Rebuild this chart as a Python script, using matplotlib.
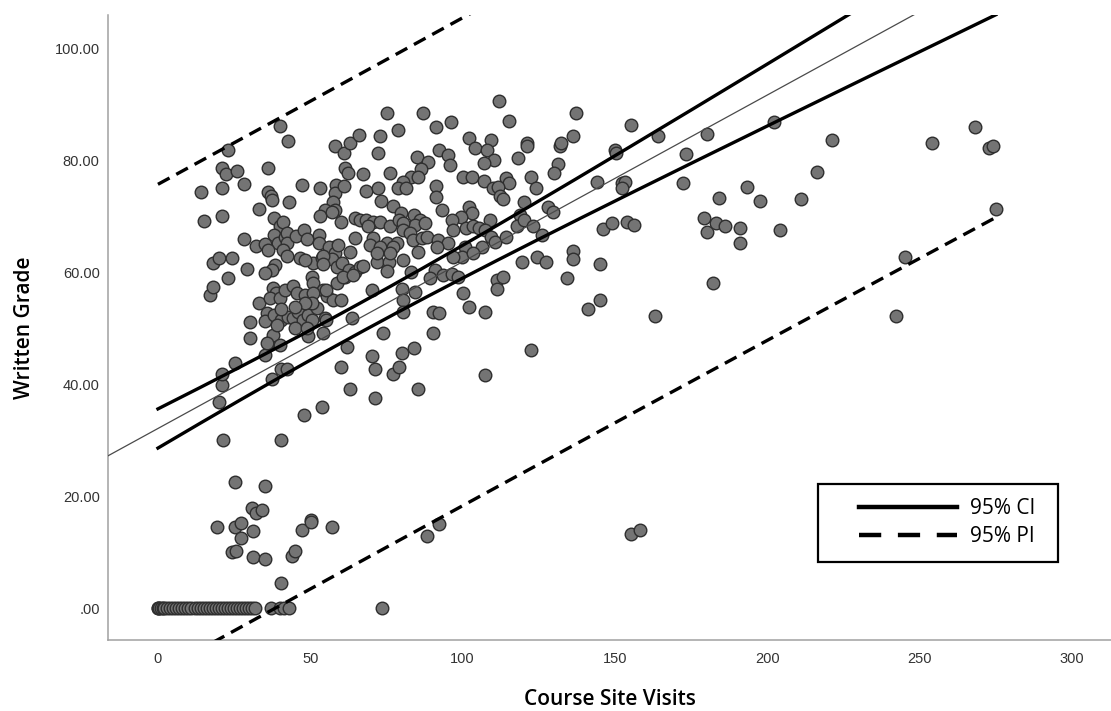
import numpy as np
import matplotlib
matplotlib.use("Agg")
import matplotlib.pyplot as plt
from matplotlib.lines import Line2D
from matplotlib.patches import Rectangle

plt.rcParams["lines.scale_dashes"] = False

# students with a written grade of zero
zero_visits = [0, 0, 0.5, 1, 1.5, 2, 3, 4, 5, 6, 7, 8, 9, 10, 11, 12, 13, 14, 15, 16,
               17, 18, 19, 20, 21, 22, 23, 24, 25, 26, 27, 28, 29, 30, 31, 32,
               37, 40, 41.5, 43, 73.5]

# (visits, grade)
low_points = [
    (19.4, 14.5), (25.3, 22.5), (25.3, 14.5), (27.2, 15.2), (27.2, 12.5), (24.2, 10.0),
    (25.6, 10.2), (31, 17.9), (32.2, 17.0), (34.2, 17.5), (35.1, 21.8), (31.1, 13.8),
    (31.1, 9.1), (35.1, 8.7), (40.3, 4.5), (44, 9.3), (45, 10.2), (47.2, 14.0),
    (50.1, 15.7), (50.3, 15.3), (57.1, 14.5), (88.3, 12.9), (92.2, 15.0),
    (155.2, 13.2), (158.2, 14.0),
    (21.3, 30.0), (40.3, 30.0), (20.1, 36.8), (21.1, 39.9), (21.1, 41.8), (25.3, 43.8),
    (37.3, 41.0), (40.3, 42.8), (42.2, 42.7), (48, 34.5), (54, 36.0), (60, 43.1),
    (63, 39.2), (70.2, 45.1), (71.2, 42.8), (71.2, 37.6), (77.2, 41.9), (79, 43.1),
    (80, 45.6), (84, 46.5), (85.3, 39.2), (107.3, 41.7), (122.4, 46.2), (35.1, 45.3),
    (36.2, 47.4), (30.2, 48.3), (30.2, 51.2), (37.7, 48.8), (40, 47), (62, 46.7),
    (73.8, 49.2), (54.2, 49.2), (49.2, 48.7), (90.3, 49.2),
]

cluster_points = [
    (40, 86.2), (23, 81.9), (42.7, 83.4), (21, 78.7), (22.3, 77.6), (25.9, 78.2),
    (36.1, 78.7), (28.2, 75.8), (14.1, 74.4), (21, 75), (36.1, 74.4), (37.1, 73.7),
    (37.4, 73), (33.1, 71.4), (15.1, 69.1), (21, 70.1), (38.1, 69.8), (40, 68.2),
    (41, 69), (28.2, 66), (38.1, 66.7), (39.4, 65.3), (41.7, 66.4), (32.2, 64.8),
    (35.1, 65.1), (43, 72.6), (18, 61.7), (20, 62.6), (24.3, 62.6), (17.1, 56),
    (18, 57.4), (23, 59), (29.2, 60.6), (47.3, 75.7), (53.2, 75), (75.2, 88.5),
    (78.8, 85.5), (58.1, 82.6), (61.1, 81.4), (63, 83.2), (66, 84.6), (72.9, 84.4),
    (72.2, 81.4), (61.4, 78.7), (62.4, 77.8), (67.3, 77.6), (76.1, 77.8), (58.4, 75.7),
    (68.3, 74.6), (72.2, 75), (73.2, 72.8), (58.1, 74.2), (57.4, 72.6), (58.1, 71.2),
    (54.8, 71.2), (53.2, 70), (57, 70.8), (60, 69), (64.7, 69.8), (66.3, 69.4),
    (68.3, 69.4), (70.6, 69), (72.9, 69), (76.1, 68.3), (69, 68.2),
    (42.3, 67.1), (42.3, 65.3), (41, 64), (42.3, 63), (45.3, 66.5), (48, 67.6),
    (49, 66), (52.8, 66.7), (52.8, 65.3), (57.8, 64.6), (56.1, 64.6), (58.1, 63.5),
    (36.1, 64), (38.4, 61.4), (37.4, 60.5), (46.6, 62.6), (50.9, 61.7), (53.8, 62.6),
    (57.1, 62.4), (58.7, 61), (60.4, 61.7), (61.4, 59.2), (62.7, 60.5), (64.7, 60.1),
    (66.3, 61), (50.5, 59.2), (50.9, 58.1), (54.2, 56.9), (55.5, 55.8), (57.4, 55.1),
    (60, 55.1), (58.7, 58.1), (33.1, 54.6), (37.7, 57.2), (38.7, 56.4), (36.8, 55.5),
    (40, 55.5), (41.7, 56.9), (35.8, 52.8), (35.1, 51.3), (38.1, 52.4), (40.3, 51.5),
    (39, 50.6), (42.7, 52.1), (44.3, 51.9), (45.9, 53), (47.6, 51.5), (49.2, 52.4),
    (50.5, 51.5), (52.2, 53.7), (54.8, 51.9), (44.9, 50.1), (48.9, 50.1), (35.8, 47.4),
    (70.2, 56.9), (63.7, 51.9), (35.1, 59.9), (40.5, 53.5),
    (87, 88.5), (85, 80.7), (88.6, 79.8), (86.3, 78.5), (83, 77.1), (85.3, 77.1),
    (80.4, 76.2), (61, 75.5), (78.8, 75), (81.4, 75), (77.1, 71.9), (79.7, 70.7),
    (79, 69.4), (84, 70.3), (86, 69.4), (84.3, 68.5), (87.6, 68.9), (80.4, 68.9),
    (80.4, 67.6), (59, 64.9), (64.7, 66.2), (70.6, 66.2), (75.2, 65.3), (78.4, 65.3),
    (82.7, 67.1), (83.7, 65.8), (86.6, 66.2), (88.3, 66.4), (69.6, 64.9), (72.9, 64.6),
    (77.1, 64.6),
    (112, 90.7), (115.2, 87.1), (96.2, 86.8), (91.2, 85.9), (102, 84.1), (109.3, 83.7),
    (104, 82.3), (108, 81.9), (110.3, 80.1), (107, 79.6), (92.2, 81.8), (95.2, 80.9),
    (95.8, 79.2), (118.1, 80.5), (100, 77.1), (103, 77.1), (107, 76.4), (114.2, 76.9),
    (115.2, 76), (91.2, 75.5), (91.2, 73.5), (110, 75.1), (111.6, 75.3), (112.2, 73.7),
    (113.2, 73.2), (93.2, 71.2), (102, 71.6), (103, 70.7), (99.4, 69.9), (96.5, 69.4),
    (96.8, 67.6), (101.1, 68), (103.4, 68.2), (105.3, 68), (109, 69.4), (107.3, 67.6),
    (118.8, 70.3), (117.8, 68.2), (91.9, 65.8), (95.2, 65.3), (91.6, 64.6),
    (109.3, 66.4), (110.6, 65.5), (106.3, 64.6), (100.8, 64.6),
    (48.2, 62.3), (54.2, 63), (54.2, 61.5), (60.7, 59.2), (64, 59.6), (63, 63.7),
    (67.3, 61.2), (71.9, 61.9), (75.8, 61.9), (75.2, 60.3), (71.9, 63.5), (76.1, 63.5),
    (80.4, 62.3), (85.3, 63.7), (83, 60.1), (44.3, 57.6), (45.6, 56.4), (48.2, 56),
    (50.9, 56.4), (50.5, 54.6), (48.2, 54.6), (45, 53.8), (55.1, 56.9), (55.1, 51.5),
    (80.1, 57.1), (84.3, 56.5), (80.4, 55.1), (80.4, 53),
    (100.1, 56.4), (102.1, 53.8), (107.3, 53), (90.3, 53), (92.2, 52.8),
    (91, 60.5), (93.5, 59.6), (96.5, 59.7), (98.5, 59.2), (99.8, 62.8), (96.8, 62.8),
    (103.4, 63.5), (89.3, 59),
]

right_points = [
    (202.2, 86.8), (221.2, 83.7), (216.3, 78), (211, 73.2), (197.6, 72.8), (204.1, 67.6),
    (254, 83.2), (268.1, 85.9), (272.7, 82.3), (274, 82.5), (275, 71.4), (245.2, 62.8),
    (242.2, 52.2), (137.2, 88.5), (155.2, 86.4), (164.1, 84.4), (180.2, 84.8),
    (150, 81.9), (150.3, 81.3), (173.3, 81.2), (144, 76.2), (152.3, 76), (153.3, 76.2),
    (152.3, 75.1), (172.3, 76), (193.3, 75.3), (184.1, 73.3), (132, 82.5), (132.3, 83.2),
    (131.3, 79.4), (130, 77.8), (136.2, 84.3), (121.1, 83.2), (121.1, 82.5),
    (122.4, 77.1), (124, 75), (120.1, 72.5), (128, 71.6), (129.6, 70.8), (126, 66.7),
    (146, 67.8), (149, 68.9), (154, 69), (156.2, 68.5), (179.2, 69.8), (180.2, 67.3),
    (183.1, 68.9), (186.1, 68.3), (191, 68), (191, 65.3), (182.1, 58.1), (163.1, 52.2),
    (136.2, 63.9), (136.2, 62.4), (145.1, 61.5), (134.2, 59), (141.1, 53.5),
    (145.1, 55.1), (124.4, 62.8), (127.3, 61.9), (119.5, 61.9), (111.2, 58.7),
    (111.2, 57.1), (113.2, 59.2), (114.2, 66.4), (120.1, 69.4), (123.1, 68.2),
]

# regression fit
fit_intercept = 32.1
fit_slope = 0.298
visits_mean = 64.3
n_obs = 273
visits_ss = 1.47e6
t_times_s = 43.5

y_ticks = [0, 20, 40, 60, 80, 100]
y_tick_labels = [".00", "20.00", "40.00", "60.00", "80.00", "100.00"]
x_ticks = [0, 50, 100, 150, 200, 250, 300]

pts = np.array(low_points + cluster_points + right_points)
visits = np.concatenate([zero_visits, pts[:, 0]])
grades = np.concatenate([np.zeros(len(zero_visits)), pts[:, 1]])

fig = plt.figure(figsize=(11.11, 7.11), dpi=100)
ax = fig.add_axes([0.0972, 0.0999, 0.9028, 0.879])

ax.scatter(visits, grades, s=82, facecolor="#747474", edgecolor="#2e2e2e",
           linewidth=1.0, zorder=2)

xmin, xmax = -16.4, 312.8
ax.set_xlim(xmin, xmax)
ax.set_ylim(-5.7, 106)

xl = np.array([xmin, xmax])
ax.plot(xl, fit_intercept + fit_slope * xl, color="#4a4a4a", lw=0.9, zorder=3)

xc = np.linspace(visits.min(), visits.max(), 300)
yc = fit_intercept + fit_slope * xc
lev = 1.0 / n_obs + (xc - visits_mean) ** 2 / visits_ss
ci = t_times_s * np.sqrt(lev)
pi = t_times_s * np.sqrt(1 + lev)
ax.plot(xc, yc + ci, color="black", lw=2.4, zorder=3)
ax.plot(xc, yc - ci, color="black", lw=2.4, zorder=3)
ax.plot(xc, yc + pi, color="black", lw=2.4, dashes=(9.5, 5.5), zorder=3)
ax.plot(xc, yc - pi, color="black", lw=2.4, dashes=(9.5, 5.5), zorder=3)

for s in ["top", "right"]:
    ax.spines[s].set_visible(False)
for s in ["left", "bottom"]:
    ax.spines[s].set_color("#a0a0a0")
    ax.spines[s].set_linewidth(1.1)

ax.set_yticks(y_ticks)
ax.set_yticklabels(y_tick_labels)
ax.set_xticks(x_ticks)
ax.tick_params(length=0, labelsize=10.5, labelcolor="#333333")
ax.tick_params(axis="y", pad=6)
ax.tick_params(axis="x", pad=9)
for lab in ax.get_xticklabels() + ax.get_yticklabels():
    lab.set_fontfamily("Liberation Sans")

ax.set_xlabel("Course Site Visits", fontsize=15, fontfamily="Open Sans",
              fontweight="semibold", labelpad=16)
ax.set_ylabel("Written Grade", fontsize=15, fontfamily="Open Sans",
              fontweight="semibold", labelpad=14)

ax.add_patch(Rectangle((0.708, 0.125), 0.239, 0.125, transform=ax.transAxes,
                       fill=False, edgecolor="black", lw=1.6, zorder=5))
handles = [Line2D([], [], color="black", lw=3.2),
           Line2D([], [], color="black", lw=3.2, dashes=(16, 12))]
ax.legend(handles, ["95% CI", "95% PI"], loc="center left",
          bbox_to_anchor=(0.7388, 0.188), frameon=False, borderpad=0,
          handlelength=4.7, handletextpad=0.6, labelspacing=0.35,
          prop={"family": "Open Sans", "size": 15})

fig.savefig("out.png", dpi=100)
